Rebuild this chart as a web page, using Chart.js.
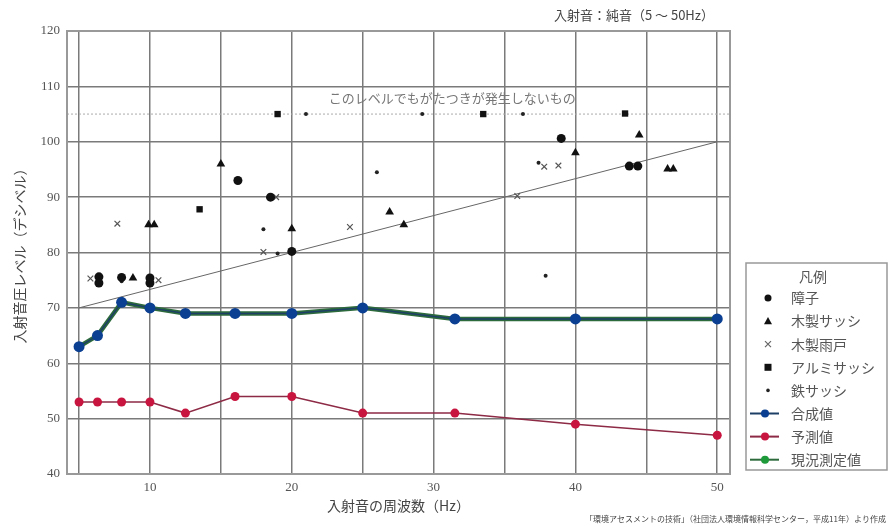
<!DOCTYPE html>
<html lang="ja">
<head>
<meta charset="utf-8">
<title>入射音圧レベルと周波数</title>
<script src="https://cdn.jsdelivr.net/npm/chart.js@4.4.1/dist/chart.umd.min.js"></script>
<style>
  html, body { margin: 0; padding: 0; background: #fff; }
  #wrap { width: 888px; height: 530px; position: relative; }
</style>
</head>
<body>
<div id="wrap"><canvas id="chart" width="888" height="530"></canvas></div>
<script>
// 入射音圧レベル vs 周波数 (純音 5～50Hz)

const freqHz      = [5, 6.3, 8, 10, 12.5, 16, 20, 25, 31.5, 40, 50];
const compositeDb = [63, 65, 71, 70, 69, 69, 69, 70, 68, 68, 68];   // 合成値
const measuredDb  = [63, 65, 71, 70, 69, 69, 69, 70, 68, 68, 68];   // 現況測定値
const predictedDb = [53, 53, 53, 53, 51, 54, 54, 51, 51, 49, 47];   // 予測値

// がたつき発生レベル (scatter)
const shojiX = [6.4, 6.4, 8, 10, 10, 16.2, 18.5, 20, 39, 43.8, 44.4];          // 障子
const shojiY = [75.6, 74.5, 75.5, 75.4, 74.5, 93, 90, 80.2, 100.6, 95.6, 95.6];
const woodSashX = [8.8, 9.9, 10.3, 15, 20, 26.9, 27.9, 40, 44.5, 46.5, 46.9];   // 木製サッシ
const woodSashY = [75.4, 85, 85, 96, 84.3, 87.3, 85, 98, 101.2, 95.1, 95.1];
const woodShutterX = [5.8, 7.7, 10.6, 18, 18.9, 24.1, 35.9, 37.8, 38.8];        // 木製雨戸
const woodShutterY = [75.3, 85.2, 75, 80.1, 90, 84.6, 90.2, 95.5, 95.7];
const aluSashX = [13.5, 19, 33.5, 43.5];                                        // アルミサッシ
const aluSashY = [87.8, 105, 105, 105.1];
const ironSashX = [8, 18, 19, 21, 26, 29.2, 36.3, 37.4, 37.9];                  // 鉄サッシ
const ironSashY = [74.8, 84.2, 79.8, 105, 94.5, 105, 105, 96.2, 75.8];

// 目安線
const trendX = [5, 50];
const trendY = [70, 100];
const noRattleLevel = 105;
const noRattleLabel = "このレベルでもがたつきが発生しないもの";

// axes
const xGridValues = [5, 10, 15, 20, 25, 30, 35, 40, 45, 50];
const xLabelValues = [10, 20, 30, 40, 50];
const yTickValues = [40, 50, 60, 70, 80, 90, 100, 110, 120];

const topNote = "入射音：純音（5 ～ 50Hz）";
const sourceNote = "「環境アセスメントの技術」（社団法人環境情報科学センター，平成11年）より作成";
const legendTitle = "凡例";

function pts(xs, ys) {
    return xs.map((x, i) => ({ x: x, y: ys[i] }));
}

const SERIF = "'Liberation Serif', 'Noto Sans CJK JP', serif";
const JP = "'Noto Sans CJK JP', sans-serif";
const TEXT = "#444";

const legendItems = [
    { label: "障子",       kind: "point", style: "circle",   r: 3.5, color: "#111" },
    { label: "木製サッシ", kind: "point", style: "triangle", r: 4,   color: "#111" },
    { label: "木製雨戸",   kind: "point", style: "crossRot", r: 3,   color: "#666" },
    { label: "アルミサッシ", kind: "point", style: "rect",   r: 3.5, color: "#111" },
    { label: "鉄サッシ",   kind: "point", style: "circle",   r: 1.8, color: "#222" },
    { label: "合成値",     kind: "line", color: "#0b3f91", line: "#1d3f66" },
    { label: "予測値",     kind: "line", color: "#c8153f", line: "#8d2a45" },
    { label: "現況測定値", kind: "line", color: "#1f9a3a", line: "#2d6b3c" }
];

function drawMark(ctx, style, x, y, r, color) {
    ctx.save();
    ctx.fillStyle = color;
    ctx.strokeStyle = color;
    ctx.lineWidth = 1.2;
    ctx.beginPath();
    if (style === "circle") {
        ctx.arc(x, y, r, 0, Math.PI * 2);
        ctx.fill();
    } else if (style === "triangle") {
        ctx.moveTo(x, y - r);
        ctx.lineTo(x + r, y + r * 0.8);
        ctx.lineTo(x - r, y + r * 0.8);
        ctx.closePath();
        ctx.fill();
    } else if (style === "rect") {
        ctx.rect(x - r, y - r, r * 2, r * 2);
        ctx.fill();
    } else if (style === "crossRot") {
        ctx.moveTo(x - r, y - r); ctx.lineTo(x + r, y + r);
        ctx.moveTo(x + r, y - r); ctx.lineTo(x - r, y + r);
        ctx.stroke();
    }
    ctx.restore();
}

const extras = {
    id: "extras",
    beforeDatasetsDraw(chart) {
        const { ctx, chartArea: a, scales } = chart;
        const y105 = scales.y.getPixelForValue(noRattleLevel);
        ctx.save();
        // reference level (dotted)
        ctx.strokeStyle = "#aaa";
        ctx.lineWidth = 1;
        ctx.setLineDash([2, 2]);
        ctx.beginPath();
        ctx.moveTo(a.left, y105);
        ctx.lineTo(a.right, y105);
        ctx.stroke();
        ctx.setLineDash([]);
        // plot frame
        ctx.strokeStyle = "#999";
        ctx.lineWidth = 2;
        ctx.strokeRect(a.left, a.top, a.right - a.left, a.bottom - a.top);
        // label of reference level
        ctx.fillStyle = "#777";
        ctx.font = "13px " + JP;
        ctx.textAlign = "left";
        ctx.textBaseline = "middle";
        ctx.fillText(noRattleLabel, scales.x.getPixelForValue(22.6), scales.y.getPixelForValue(107.8));
        ctx.restore();
    },
    afterDraw(chart) {
        const { ctx } = chart;
        ctx.save();
        ctx.fillStyle = TEXT;
        ctx.textBaseline = "middle";
        // top-right note
        ctx.font = "13px " + JP;
        ctx.textAlign = "right";
        ctx.fillText(topNote, 714, 15);
        // source
        ctx.font = "8px " + JP;
        ctx.fillText(sourceNote, 886, 519);

        // legend box
        const bx = 746, by = 263, bw = 141, bh = 207;
        ctx.strokeStyle = "#999";
        ctx.lineWidth = 1.5;
        ctx.strokeRect(bx, by, bw, bh);
        ctx.fillStyle = "#555";
        ctx.font = "14px " + JP;
        ctx.textAlign = "center";
        ctx.fillText(legendTitle, 813, 277);
        ctx.textAlign = "left";
        legendItems.forEach((it, i) => {
            const y = 298 + i * 23.1;
            if (it.kind === "point") {
                drawMark(ctx, it.style, 768, y, it.r, it.color);
            } else {
                ctx.strokeStyle = it.line;
                ctx.lineWidth = 2;
                ctx.beginPath();
                ctx.moveTo(750, y);
                ctx.lineTo(779, y);
                ctx.stroke();
                drawMark(ctx, "circle", 765, y, 4, it.color);
            }
            ctx.fillStyle = "#555";
            ctx.font = "14px " + JP;
            ctx.fillText(it.label, 791, y);
        });
        ctx.restore();
    }
};

const scatterBase = { showLine: false, order: 3 };

new Chart(document.getElementById("chart"), {
    type: "scatter",
    data: {
        datasets: [
            {
                label: "合成値",
                data: pts(freqHz, compositeDb),
                showLine: true,
                borderColor: "#1d3f66",
                borderWidth: 1.5,
                backgroundColor: "#0b3f91",
                pointRadius: 5.5,
                pointBorderWidth: 0,
                order: 0
            },
            {
                label: "現況測定値",
                data: pts(freqHz, measuredDb),
                showLine: true,
                borderColor: "#2d6b3c",
                borderWidth: 4.5,
                backgroundColor: "#1f9a3a",
                pointRadius: 0,
                order: 1
            },
            {
                label: "予測値",
                data: pts(freqHz, predictedDb),
                showLine: true,
                borderColor: "#8d2a45",
                borderWidth: 1.5,
                backgroundColor: "#c8153f",
                pointRadius: 4.5,
                pointBorderWidth: 0,
                order: 2
            },
            Object.assign({ label: "障子", data: pts(shojiX, shojiY), pointStyle: "circle",
                pointRadius: 4.5, backgroundColor: "#111", borderColor: "#111", borderWidth: 0 }, scatterBase),
            Object.assign({ label: "木製サッシ", data: pts(woodSashX, woodSashY), pointStyle: "triangle",
                pointRadius: 5, backgroundColor: "#111", borderColor: "#111", borderWidth: 0 }, scatterBase),
            Object.assign({ label: "木製雨戸", data: pts(woodShutterX, woodShutterY), pointStyle: "crossRot",
                pointRadius: 4, backgroundColor: "#555", borderColor: "#555", borderWidth: 1.2 }, scatterBase),
            Object.assign({ label: "アルミサッシ", data: pts(aluSashX, aluSashY), pointStyle: "rect",
                pointRadius: 4.5, backgroundColor: "#111", borderColor: "#111", borderWidth: 0 }, scatterBase),
            Object.assign({ label: "鉄サッシ", data: pts(ironSashX, ironSashY), pointStyle: "circle",
                pointRadius: 2, backgroundColor: "#222", borderColor: "#222", borderWidth: 0 }, scatterBase),
            {
                label: "目安線",
                data: pts(trendX, trendY),
                showLine: true,
                borderColor: "#666",
                borderWidth: 1,
                pointRadius: 0,
                order: 4
            }
        ]
    },
    options: {
        responsive: false,
        animation: false,
        layout: { padding: { top: 31, right: 158, bottom: 12, left: 0 } },
        plugins: {
            legend: { display: false },
            tooltip: { enabled: false }
        },
        scales: {
            x: {
                type: "linear",
                min: 4.15,
                max: 50.9,
                afterFit: s => { s.height = 44; },
                afterBuildTicks: s => { s.ticks = xGridValues.map(v => ({ value: v })); },
                grid: { color: "#7a7a7a", lineWidth: 1.5, drawTicks: false },
                border: { display: false },
                ticks: {
                    padding: 6,
                    color: "#555",
                    font: { family: SERIF, size: 13 },
                    callback: v => (xLabelValues.includes(v) ? String(v) : "")
                },
                title: {
                    display: true,
                    text: "入射音の周波数（Hz）",
                    color: TEXT,
                    font: { family: JP, size: 14 },
                    padding: { top: 4, bottom: 4 }
                }
            },
            y: {
                type: "linear",
                min: 40,
                max: 120,
                afterFit: s => { s.width = 67; },
                afterBuildTicks: s => { s.ticks = yTickValues.map(v => ({ value: v })); },
                grid: { color: "#7a7a7a", lineWidth: 1.5, drawTicks: false },
                border: { display: false },
                ticks: {
                    padding: 7,
                    color: "#555",
                    font: { family: SERIF, size: 13 }
                },
                title: {
                    display: true,
                    text: "入射音圧レベル（デシベル）",
                    color: TEXT,
                    font: { family: JP, size: 14 },
                    padding: { top: 11, bottom: 0 }
                }
            }
        }
    },
    plugins: [extras]
});
</script>
</body>
</html>
